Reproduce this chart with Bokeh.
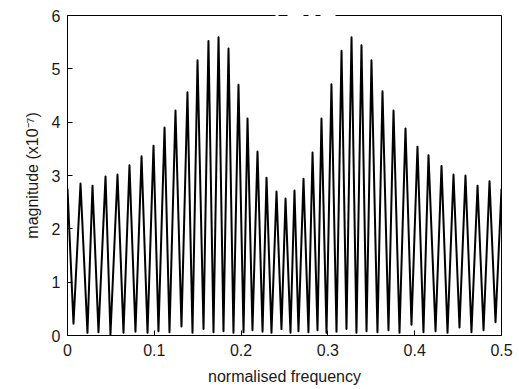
from bokeh.plotting import figure
from bokeh.models import LinearAxis, FixedTicker, Range1d
from bokeh.embed import file_html
from bokeh.resources import INLINE

# ---- data ----
start_freq, start_mag = 0.0, 2.75
end_freq, end_mag = 0.5, 2.75

peak_freq = [0.0150, 0.0288, 0.0438, 0.0576, 0.0714, 0.0853, 0.0991, 0.1118, 0.1244,
             0.1382, 0.1498, 0.1624, 0.1740, 0.1855, 0.1970, 0.2074, 0.2189, 0.2293,
             0.2408, 0.2512, 0.2615, 0.2719, 0.2823, 0.2926, 0.3041, 0.3157, 0.3272,
             0.3387, 0.3502, 0.3629, 0.3756, 0.3894, 0.4032, 0.4159, 0.4309, 0.4447,
             0.4585, 0.4724, 0.4862]
peak_mag = [2.85, 2.81, 2.98, 3.02, 3.19, 3.36, 3.56, 3.90, 4.22,
            4.56, 5.16, 5.52, 5.59, 5.38, 4.70, 4.07, 3.45, 2.96,
            2.70, 2.57, 2.72, 2.94, 3.43, 4.07, 4.71, 5.34, 5.59,
            5.44, 5.16, 4.58, 4.22, 3.88, 3.54, 3.38, 3.18, 3.02,
            3.00, 2.81, 2.89]

trough_freq = [0.0069, 0.0230, 0.0357, 0.0495, 0.0645, 0.0783, 0.0922, 0.1048, 0.1175,
               0.1313, 0.1440, 0.1567, 0.1682, 0.1797, 0.1912, 0.2028, 0.2131, 0.2247,
               0.2350, 0.2465, 0.2569, 0.2661, 0.2776, 0.2880, 0.2984, 0.3099, 0.3214,
               0.3329, 0.3445, 0.3571, 0.3698, 0.3825, 0.3963, 0.4101, 0.4240, 0.4378,
               0.4516, 0.4654, 0.4793, 0.4931]
trough_mag = [0.22, 0.05, 0.06, 0.02, 0.05, 0.07, 0.05, 0.08, 0.06,
              0.17, 0.05, 0.12, 0.06, 0.08, 0.05, 0.06, 0.10, 0.07,
              0.05, 0.12, 0.05, 0.08, 0.06, 0.10, 0.05, 0.07, 0.12,
              0.05, 0.08, 0.06, 0.10, 0.05, 0.20, 0.06, 0.08, 0.05,
              0.15, 0.06, 0.10, 0.25]

x_ticks = [0, 0.1, 0.2, 0.3, 0.4, 0.5]
x_tick_labels = ["0", "0.1", "0.2", "0.3", "0.4", "0.5"]
y_ticks = [0, 1, 2, 3, 4, 5, 6]
y_tick_labels = ["0", "1", "2", "3", "4", "5", "6"]

# interleave: start, trough, peak, trough, ..., peak, trough, end
xs = [start_freq]
ys = [start_mag]
for i in range(len(peak_freq)):
    xs += [trough_freq[i], peak_freq[i]]
    ys += [trough_mag[i], peak_mag[i]]
xs += [trough_freq[-1], end_freq]
ys += [trough_mag[-1], end_mag]

FONT = "Liberation Sans"
TXT = "#1a1a1a"

p = figure(width=519, height=389, output_backend="svg", toolbar_location=None,
           x_range=Range1d(0, 0.5), y_range=Range1d(0, 6),
           min_border_left=67, min_border_right=18, min_border_top=15,
           min_border_bottom=54, x_axis_location="below", y_axis_location="left")
p.outline_line_color = None
p.grid.visible = False
p.background_fill_color = "white"
p.border_fill_color = "white"

p.line(xs, ys, line_color="black", line_width=2.0, line_join="round")

for ax in (p.xaxis[0], p.yaxis[0]):
    ax.axis_line_color = "black"
    ax.axis_line_width = 1
    ax.major_tick_in = 5
    ax.major_tick_out = 0
    ax.minor_tick_line_color = None
    ax.major_tick_line_color = "black"
    ax.major_label_text_font = FONT
    ax.major_label_text_font_size = "16px"
    ax.major_label_text_color = TXT
    ax.axis_label_text_font = FONT
    ax.axis_label_text_font_size = "16px"
    ax.axis_label_text_font_style = "normal"
    ax.axis_label_text_color = TXT

p.xaxis[0].ticker = FixedTicker(ticks=x_ticks)
p.xaxis[0].major_label_overrides = {t: l for t, l in zip(x_ticks, x_tick_labels)}
p.xaxis[0].major_label_standoff = 8
p.xaxis[0].axis_label = "normalised frequency"
p.xaxis[0].axis_label_standoff = 9

p.yaxis[0].ticker = FixedTicker(ticks=y_ticks)
p.yaxis[0].major_label_overrides = {t: l for t, l in zip(y_ticks, y_tick_labels)}
p.yaxis[0].major_label_standoff = 7
p.yaxis[0].axis_label = "magnitude (x10\u207b\u2077)"
p.yaxis[0].axis_label_standoff = 8

# frame: right side solid, top side with the reference's scan gaps
right = LinearAxis(ticker=FixedTicker(ticks=[]), axis_line_color="black",
                   major_label_text_font_size="0px", major_tick_line_color=None,
                   minor_tick_line_color=None)
top = LinearAxis(ticker=FixedTicker(ticks=[]), axis_line_color="black",
                 axis_line_dash="208 3 9 16 5 7 5 15 180",
                 major_label_text_font_size="0px", major_tick_line_color=None,
                 minor_tick_line_color=None)
p.add_layout(right, "right")
p.add_layout(top, "above")

open("out.html", "w").write(file_html(p, INLINE))
